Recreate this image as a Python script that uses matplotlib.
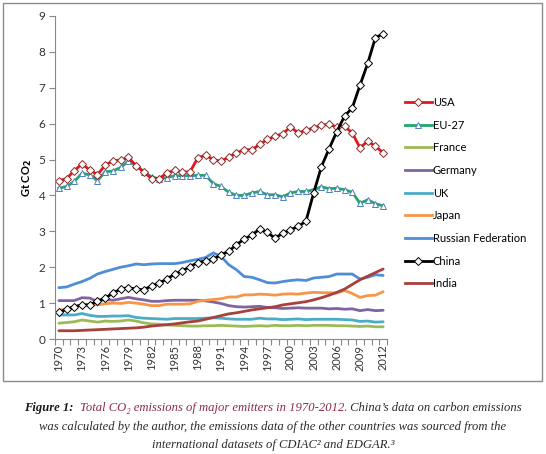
import numpy as np
import matplotlib
matplotlib.use('Agg')
import matplotlib.pyplot as plt
from matplotlib.lines import Line2D
from matplotlib.patches import Rectangle

plt.rcParams['font.family'] = ['Lato', 'DejaVu Sans']

years = list(range(1970, 2013))

usa = [4.41, 4.47, 4.69, 4.88, 4.71, 4.58, 4.84, 4.97, 4.98, 5.06,
       4.83, 4.65, 4.47, 4.47, 4.63, 4.70, 4.65, 4.66, 5.05, 5.12,
       5.00, 4.95, 5.07, 5.18, 5.28, 5.27, 5.42, 5.56, 5.65, 5.72,
       5.91, 5.74, 5.82, 5.88, 5.96, 5.98, 5.91, 5.93, 5.74, 5.33,
       5.51, 5.37, 5.19]
eu27 = [4.20, 4.25, 4.39, 4.62, 4.57, 4.41, 4.66, 4.68, 4.78, 4.95,
        4.85, 4.66, 4.52, 4.46, 4.50, 4.55, 4.55, 4.55, 4.56, 4.56,
        4.33, 4.25, 4.09, 4.00, 4.00, 4.07, 4.11, 4.02, 4.02, 3.96,
        4.07, 4.11, 4.11, 4.16, 4.24, 4.19, 4.20, 4.16, 4.09, 3.78,
        3.88, 3.77, 3.71]
france = [0.44, 0.46, 0.48, 0.53, 0.50, 0.47, 0.50, 0.49, 0.50, 0.53,
          0.50, 0.45, 0.42, 0.41, 0.39, 0.38, 0.37, 0.36, 0.36, 0.37,
          0.37, 0.38, 0.37, 0.36, 0.35, 0.36, 0.37, 0.36, 0.38, 0.37,
          0.37, 0.38, 0.37, 0.38, 0.38, 0.38, 0.37, 0.37, 0.36, 0.35,
          0.36, 0.34, 0.34]
germany = [1.07, 1.07, 1.07, 1.15, 1.14, 1.04, 1.10, 1.08, 1.12, 1.16,
           1.12, 1.09, 1.05, 1.05, 1.07, 1.08, 1.08, 1.08, 1.08, 1.06,
           1.03, 0.99, 0.93, 0.90, 0.89, 0.90, 0.91, 0.88, 0.87, 0.85,
           0.86, 0.87, 0.86, 0.86, 0.86, 0.84, 0.85, 0.83, 0.84, 0.79,
           0.82, 0.79, 0.80]
uk = [0.67, 0.67, 0.67, 0.71, 0.66, 0.63, 0.63, 0.64, 0.64, 0.65,
      0.60, 0.58, 0.57, 0.56, 0.55, 0.57, 0.57, 0.57, 0.57, 0.58,
      0.59, 0.58, 0.56, 0.55, 0.55, 0.55, 0.58, 0.56, 0.56, 0.54,
      0.55, 0.56, 0.54, 0.55, 0.55, 0.55, 0.55, 0.54, 0.53, 0.49,
      0.50, 0.47, 0.48]
japan = [0.80, 0.84, 0.90, 0.95, 0.96, 0.95, 0.98, 1.00, 0.99, 1.02,
         1.00, 0.97, 0.93, 0.93, 0.97, 0.97, 0.97, 0.98, 1.05, 1.08,
         1.10, 1.12, 1.17, 1.17, 1.23, 1.23, 1.25, 1.24, 1.22, 1.25,
         1.26, 1.25, 1.28, 1.30, 1.29, 1.29, 1.28, 1.35, 1.27, 1.16,
         1.21, 1.22, 1.32]
russia = [1.43, 1.45, 1.53, 1.60, 1.69, 1.81, 1.88, 1.94, 2.00, 2.04,
          2.09, 2.07, 2.09, 2.10, 2.10, 2.10, 2.13, 2.18, 2.22, 2.27,
          2.40, 2.30, 2.07, 1.93, 1.74, 1.72, 1.65, 1.57, 1.56, 1.60,
          1.63, 1.65, 1.63, 1.70, 1.72, 1.74, 1.81, 1.81, 1.81, 1.67,
          1.72, 1.79, 1.77]
china = [0.74, 0.83, 0.90, 0.95, 0.95, 1.06, 1.14, 1.28, 1.39, 1.43,
         1.39, 1.37, 1.48, 1.56, 1.67, 1.81, 1.90, 2.02, 2.13, 2.18,
         2.22, 2.35, 2.44, 2.63, 2.78, 2.90, 3.06, 2.97, 2.81, 2.95,
         3.04, 3.14, 3.28, 4.07, 4.80, 5.30, 5.78, 6.21, 6.44, 7.07,
         7.68, 8.40, 8.50]
india = [0.23, 0.23, 0.23, 0.24, 0.25, 0.26, 0.27, 0.28, 0.29, 0.30,
         0.31, 0.33, 0.36, 0.38, 0.40, 0.42, 0.45, 0.48, 0.50, 0.55,
         0.60, 0.65, 0.70, 0.73, 0.77, 0.81, 0.84, 0.87, 0.90, 0.95,
         0.98, 1.01, 1.04, 1.09, 1.15, 1.22, 1.30, 1.39, 1.52, 1.65,
         1.75, 1.85, 1.95]

# (label, data, colour, marker, marker face, marker edge)
series = [
    ('USA', usa, '#E8141B', 'D', 'white', '#8B2A2A'),
    ('EU-27', eu27, '#22A66E', '^', 'white', '#4F81BD'),
    ('France', france, '#9BBB59', None, None, None),
    ('Germany', germany, '#8064A2', None, None, None),
    ('UK', uk, '#4BACC6', None, None, None),
    ('Japan', japan, '#F79646', None, None, None),
    ('Russian Federation', russia, '#4F8DD6', None, None, None),
    ('China', china, '#000000', 'D', 'white', '#000000'),
    ('India', india, '#A8403C', None, None, None),
]
# draw order: plain lines first, marker series on top
draw_order = ['France', 'Germany', 'UK', 'Japan', 'Russian Federation', 'India',
              'EU-27', 'USA', 'China']

W, H = 546, 454
fig = plt.figure(figsize=(W / 100, H / 100), dpi=100)

# grey frame round the chart
fig.patches.append(Rectangle((3 / W, 1 - 381 / H), 539 / W, 378 / H,
                             transform=fig.transFigure, fill=False,
                             edgecolor='#8c8c8c', linewidth=1.0))

ax = fig.add_axes([55 / W, 1 - 339 / H, 332 / W, 323 / H])
lookup = {s[0]: s for s in series}
for name in draw_order:
    label, data, col, mk, mfc, mec = lookup[name]
    if mk is None:
        ax.plot(years, data, color=col, lw=2.0, solid_capstyle='round')
    else:
        ms = 4.2 if mk == 'D' else 4.8
        ax.plot(years, data, color=col, lw=2.0, marker=mk, ms=ms,
                mfc=mfc, mec=mec, mew=0.7)

ax.set_xlim(1969.5, 2012.5)
ax.set_ylim(0, 9)
ax.set_yticks(range(0, 10))
ax.set_xticks(years[::3])
ax.set_xticks(np.arange(1969.5, 2013, 1), minor=True)
ax.tick_params(axis='x', which='major', length=0, labelrotation=90,
               labelsize=8, labelcolor='#333333', pad=4)
ax.tick_params(axis='x', which='minor', length=4, color='#888888', width=0.8)
ax.tick_params(axis='y', length=4, color='#888888', width=0.8, labelsize=8.5,
               labelcolor='#333333', pad=3)
for s in ['top', 'right']:
    ax.spines[s].set_visible(False)
for s in ['left', 'bottom']:
    ax.spines[s].set_color('#888888')
    ax.spines[s].set_linewidth(0.8)
ax.set_ylabel(r'Gt CO$_\mathbf{2}$', fontsize=8, fontweight='bold', labelpad=3)

handles = []
for label, data, col, mk, mfc, mec in series:
    if mk is None:
        handles.append(Line2D([], [], color=col, lw=2.0, label=label))
    else:
        handles.append(Line2D([], [], color=col, lw=2.0, marker=mk,
                              ms=3.8 if mk == 'D' else 4.3,
                              mfc=mfc, mec=mec, mew=0.7, label=label))
fig.legend(handles=handles, loc='upper left', bbox_to_anchor=(405 / W, 1 - 97 / H),
           frameon=False, fontsize=8, handlelength=2.4, handletextpad=0.1,
           labelspacing=1.05, borderpad=0, borderaxespad=0, numpoints=1)

# caption
serif = ['Liberation Serif', 'DejaVu Serif']
renderer = fig.canvas.get_renderer()
cap_size = 9.1
pieces = [
    ('Figure 1:  ', 'bold', '#1a1a1a'),
    ('Total CO\u2082 emissions of major emitters in 1970-2012.', 'normal', '#8E2B45'),
    (' China\u2019s data on carbon emissions', 'normal', '#2b2b2b'),
]
texts = []
for txt, wt, col in pieces:
    t = fig.text(0, 1 - 408 / H, txt, fontsize=cap_size, family=serif, style='italic',
                 fontweight=wt, color=col, va='center', ha='left')
    texts.append(t)
widths = [t.get_window_extent(renderer).width for t in texts]
x0 = (W - sum(widths)) / 2
for t, w in zip(texts, widths):
    t.set_x(x0 / W)
    x0 += w
fig.text(0.5, 1 - 427 / H,
         'was calculated by the author, the emissions data of the other countries was sourced from the',
         fontsize=cap_size, family=serif, style='italic', color='#2b2b2b',
         ha='center', va='center')
fig.text(0.5, 1 - 445 / H, 'international datasets of CDIAC\u00b2 and EDGAR.\u00b3',
         fontsize=cap_size, family=serif, style='italic', color='#2b2b2b',
         ha='center', va='center')

fig.savefig('out.png', dpi=100)
